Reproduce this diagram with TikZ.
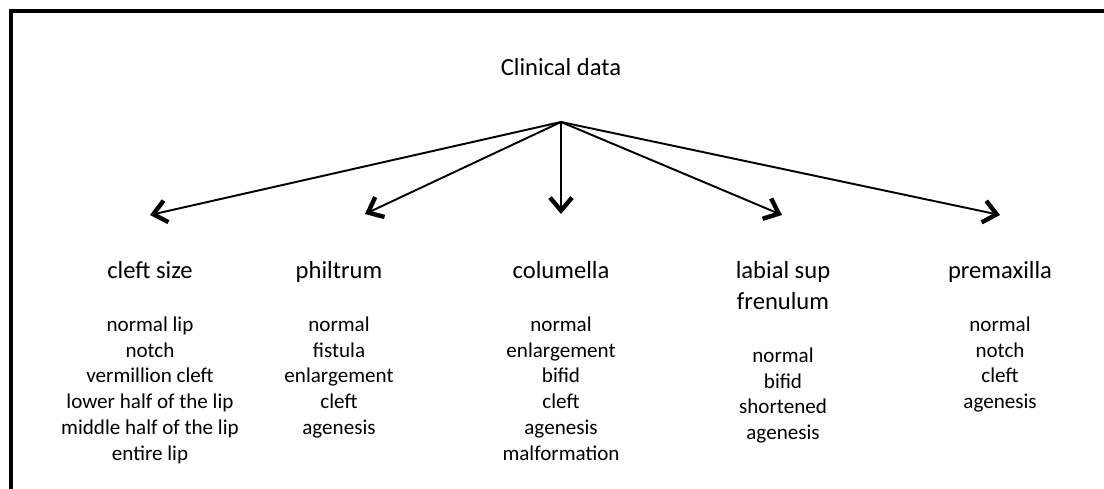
\documentclass[tikz,border=0pt]{standalone}
\usepackage{fontspec}
\setmainfont{Carlito}
\usetikzlibrary{arrows.meta,positioning}
\tikzset{
  cdtitle/.style={font=\fontsize{14}{17.4}\selectfont,align=center,inner sep=0pt},
  cdhead/.style={font=\fontsize{14}{17.4}\selectfont,align=center,inner sep=0pt,text depth=0pt},
  cditems/.style={font=\fontsize{12}{14.7}\selectfont,align=center,inner sep=0pt},
  cdlink/.style={-{Straight Barb[length=2.6mm,width=4.4mm,line width=2.5pt]},line width=1.1pt,draw=black}
}

\begin{document}
\begin{tikzpicture}[x=0.02cm,y=-0.02cm,node distance=0.76cm]
\useasboundingbox (0,0) rectangle (1104,489);
\clip (0,0) rectangle (1104,489);

% ---- FRAME ----
\draw[line width=2.8pt] (11,11) rectangle (1130,520);

% ---- ROOT ----
\node[cdtitle, anchor=base] (clin) at (561,76) {Clinical data};
\coordinate (apex) at (561,122);

% ---- CATEGORIES ----
\node[cdhead, anchor=base] (size) at (150,278) {cleft size};
\node[cdhead, anchor=base] (phil) at (339,278) {philtrum};
\node[cdhead, anchor=base] (colu) at (561,278) {columella};
\node[cdhead, anchor=base] (fren) at (783,309) {labial sup\\ frenulum};
\node[cdhead, anchor=base] (prem) at (1000,278) {premaxilla};

% ---- ARROW TIPS ----
\coordinate (tsize) at (150,215);
\coordinate (tphil) at (365,214);
\coordinate (tcolu) at (561,214);
\coordinate (tfren) at (782,215);
\coordinate (tprem) at (1000,215);

\draw[cdlink] (apex) -- (tsize);
\draw[cdlink] (apex) -- (tphil);
\draw[cdlink] (apex) -- (tcolu);
\draw[cdlink] (apex) -- (tfren);
\draw[cdlink] (apex) -- (tprem);

% ---- VALUES ----
\node[cditems, below=of size] (sizev) {normal lip\\ notch\\ vermillion cleft\\ lower half of the lip\\ middle half of the lip\\ entire lip};
\node[cditems, below=of phil] (philv) {normal\\ fistula\\ enlargement\\ cleft\\ agenesis};
\node[cditems, below=of colu] (coluv) {normal\\ enlargement\\ bifid\\ cleft\\ agenesis\\ malformation};
\node[cditems, below=of fren] (frenv) {normal\\ bifid\\ shortened\\ agenesis};
\node[cditems, below=of prem] (premv) {normal\\ notch\\ cleft\\ agenesis};

\end{tikzpicture}
\end{document}
